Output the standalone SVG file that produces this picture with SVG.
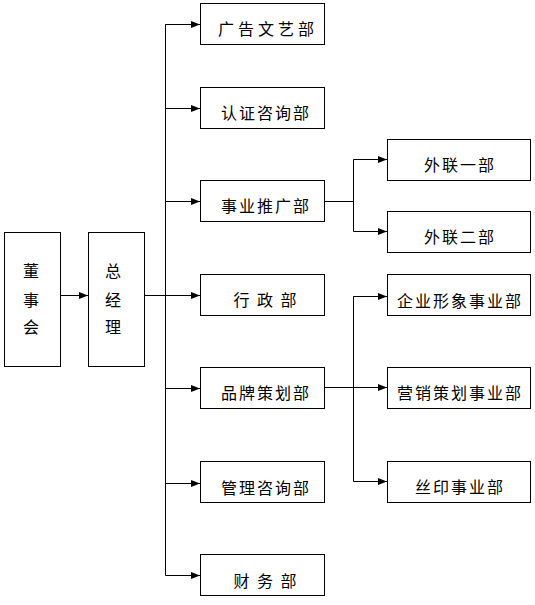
<svg xmlns="http://www.w3.org/2000/svg" width="535" height="605" viewBox="0 0 535 605">
<style>
.box{fill:#fff;stroke:#000;stroke-width:1}
.t{font-family:"Noto Sans CJK SC","Liberation Sans",sans-serif;font-size:16px;fill:#000;text-anchor:middle;letter-spacing:2px}
.c{fill:none;stroke:#000;stroke-width:1}
</style>
<defs>
<marker id="a" markerWidth="9" markerHeight="8" refX="9" refY="4" orient="auto" markerUnits="userSpaceOnUse">
<path d="M0,0.5 L9,4 L0,7.5 Z" fill="#000"/>
</marker>
</defs>
<rect width="535" height="605" fill="#fff"/>
<g id="connectors">
<line class="c" x1="61" y1="295.5" x2="88" y2="295.5" marker-end="url(#a)"/>
<line class="c" x1="144" y1="295.5" x2="200" y2="295.5" marker-end="url(#a)"/>
<polyline class="c" points="200,24.5 165.5,24.5 165.5,575.5 200,575.5" marker-end="url(#a)"/>
<line class="c" x1="165.5" y1="24.5" x2="200" y2="24.5" marker-end="url(#a)"/>
<line class="c" x1="165.5" y1="108.5" x2="200" y2="108.5" marker-end="url(#a)"/>
<line class="c" x1="165.5" y1="201.5" x2="200" y2="201.5" marker-end="url(#a)"/>
<line class="c" x1="165.5" y1="388.5" x2="200" y2="388.5" marker-end="url(#a)"/>
<line class="c" x1="165.5" y1="483.5" x2="200" y2="483.5" marker-end="url(#a)"/>
<line class="c" x1="325" y1="201.5" x2="353.5" y2="201.5"/>
<polyline class="c" points="387,159.5 353.5,159.5 353.5,231.5 387,231.5" marker-end="url(#a)"/>
<line class="c" x1="353.5" y1="159.5" x2="387" y2="159.5" marker-end="url(#a)"/>
<line class="c" x1="325" y1="387.5" x2="387" y2="387.5" marker-end="url(#a)"/>
<polyline class="c" points="387,296.5 353.5,296.5 353.5,481.5 387,481.5" marker-end="url(#a)"/>
<line class="c" x1="353.5" y1="296.5" x2="387" y2="296.5" marker-end="url(#a)"/>
</g>
<g id="dongshihui">
<rect class="box" x="4.5" y="232.5" width="56" height="134"/>
<text class="t" x="32" y="277">董</text>
<text class="t" x="32" y="306">事</text>
<text class="t" x="32" y="333">会</text>
</g>
<g id="zongjingli">
<rect class="box" x="88.5" y="232.5" width="56" height="134"/>
<text class="t" x="114" y="277">总</text>
<text class="t" x="114" y="306">经</text>
<text class="t" x="114" y="333">理</text>
</g>
<g id="guanggao">
<rect class="box" x="200.5" y="3.5" width="124" height="41"/>
<text class="t" x="268" y="35" style="letter-spacing:4px">广告文艺部</text>
</g>
<g id="renzheng">
<rect class="box" x="200.5" y="87.5" width="124" height="41"/>
<text class="t" x="266" y="119">认证咨询部</text>
</g>
<g id="shiyetuiguang">
<rect class="box" x="200.5" y="180.5" width="124" height="41"/>
<text class="t" x="266" y="212">事业推广部</text>
</g>
<g id="xingzheng">
<rect class="box" x="200.5" y="274.5" width="124" height="41"/>
<text class="t" x="266" y="306" xml:space="preserve">行 政 部</text>
</g>
<g id="pinpai">
<rect class="box" x="200.5" y="367.5" width="124" height="41"/>
<text class="t" x="266" y="399">品牌策划部</text>
</g>
<g id="guanlizixun">
<rect class="box" x="200.5" y="461.5" width="124" height="41"/>
<text class="t" x="266" y="494">管理咨询部</text>
</g>
<g id="caiwu">
<rect class="box" x="200.5" y="554.5" width="124" height="41"/>
<text class="t" x="266" y="587" xml:space="preserve">财 务 部</text>
</g>
<g id="wailian1">
<rect class="box" x="387.5" y="139.5" width="143" height="41"/>
<text class="t" x="460" y="171">外联一部</text>
</g>
<g id="wailian2">
<rect class="box" x="387.5" y="211.5" width="143" height="41"/>
<text class="t" x="460" y="243">外联二部</text>
</g>
<g id="qiyexingxiang">
<rect class="box" x="387.5" y="274.5" width="143" height="41"/>
<text class="t" x="460" y="307">企业形象事业部</text>
</g>
<g id="yingxiao">
<rect class="box" x="387.5" y="367.5" width="143" height="41"/>
<text class="t" x="460" y="399">营销策划事业部</text>
</g>
<g id="siyin">
<rect class="box" x="387.5" y="461.5" width="143" height="41"/>
<text class="t" x="460" y="493">丝印事业部</text>
</g>
</svg>
